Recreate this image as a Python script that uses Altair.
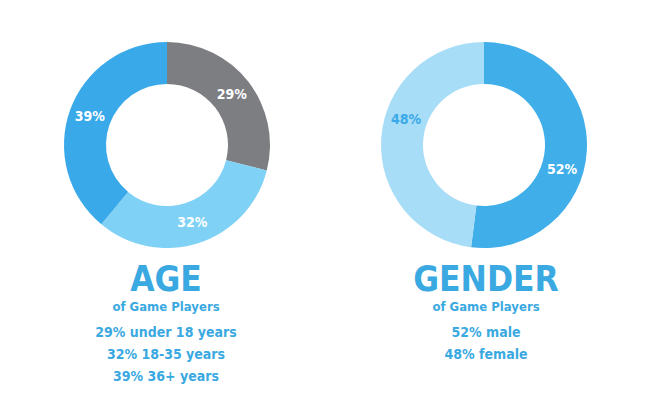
import altair as alt
import pandas as pd

# ---- data ----
age_labels = ["under 18 years", "18-35 years", "36+ years"]
age_values = [29, 32, 39]
age_colors = ["#7d7e82", "#7fd1f5", "#3aa9e9"]
age_label_colors = ["#ffffff", "#ffffff", "#ffffff"]

gender_labels = ["male", "female"]
gender_values = [52, 48]
gender_colors = ["#40aee9", "#a8ddf7"]
gender_label_colors = ["#ffffff", "#3aa9e9"]

titles = ["AGE", "GENDER"]
subtitle = "of Game Players"

FONT = "'DejaVu Sans Condensed', 'Roboto Condensed', 'Arial Narrow', Roboto, sans-serif"
TEXT_COLOR = "#3aa9e1"


def make_df(labels, values, colors, label_colors):
    return pd.DataFrame({
        "label": labels,
        "value": values,
        "pct": [f"{v}%" for v in values],
        "color": colors,
        "tcolor": label_colors,
        "order": list(range(len(labels))),
    })


age_df = make_df(age_labels, age_values, age_colors, age_label_colors)
gender_df = make_df(gender_labels, gender_values, gender_colors, gender_label_colors)

age_lines = [f"{v}% {l}" for v, l in zip(age_values, age_labels)]
gender_lines = [f"{v}% {l}" for v, l in zip(gender_values, gender_labels)]


def donut(df, cx, cy, label_rot):
    base = alt.Chart(df).encode(
        theta=alt.Theta("value:Q", stack=True),
        order=alt.Order("order:Q"),
        x=alt.value(cx),
        y=alt.value(cy),
    )
    arc = base.mark_arc(outerRadius=103, innerRadius=61).encode(
        color=alt.Color("color:N", scale=None)
    )
    txt = base.mark_text(
        radius=82, thetaOffset=label_rot, font=FONT, fontSize=14, fontWeight="bold",
        align="center", baseline="middle"
    ).encode(
        text="pct:N",
        color=alt.Color("tcolor:N", scale=None),
    )
    return [arc, txt]


def captions(title, lines, cx):
    t1 = alt.Chart(pd.DataFrame({"t": [title]})).mark_text(
        font=FONT, fontSize=35, fontWeight="bold", color=TEXT_COLOR,
        align="center", baseline="alphabetic"
    ).encode(text="t:N", x=alt.value(cx), y=alt.value(283))
    t2 = alt.Chart(pd.DataFrame({"t": [subtitle]})).mark_text(
        font=FONT, fontSize=13, fontWeight="bold", color=TEXT_COLOR,
        align="center", baseline="alphabetic"
    ).encode(text="t:N", x=alt.value(cx), y=alt.value(303))
    t3 = alt.Chart(pd.DataFrame({"t": ["\n".join(lines)]})).mark_text(
        font=FONT, fontSize=14, fontWeight="bold", color=TEXT_COLOR,
        align="center", baseline="alphabetic", lineBreak="\n", lineHeight=22
    ).encode(text="t:N", x=alt.value(cx), y=alt.value(329))
    return [t1, t2, t3]


layers = (
    donut(age_df, 159, 137, 0)
    + donut(gender_df, 476, 137, 0.25)
    + captions(titles[0], age_lines, 158)
    + captions(titles[1], gender_lines, 478)
)

chart = alt.layer(*layers).resolve_scale(theta="independent").properties(
    width=634, height=382, padding=0, background="#ffffff"
).configure_view(strokeWidth=0)

chart.save("out.html", embed_options={"renderer": "svg", "actions": False})
